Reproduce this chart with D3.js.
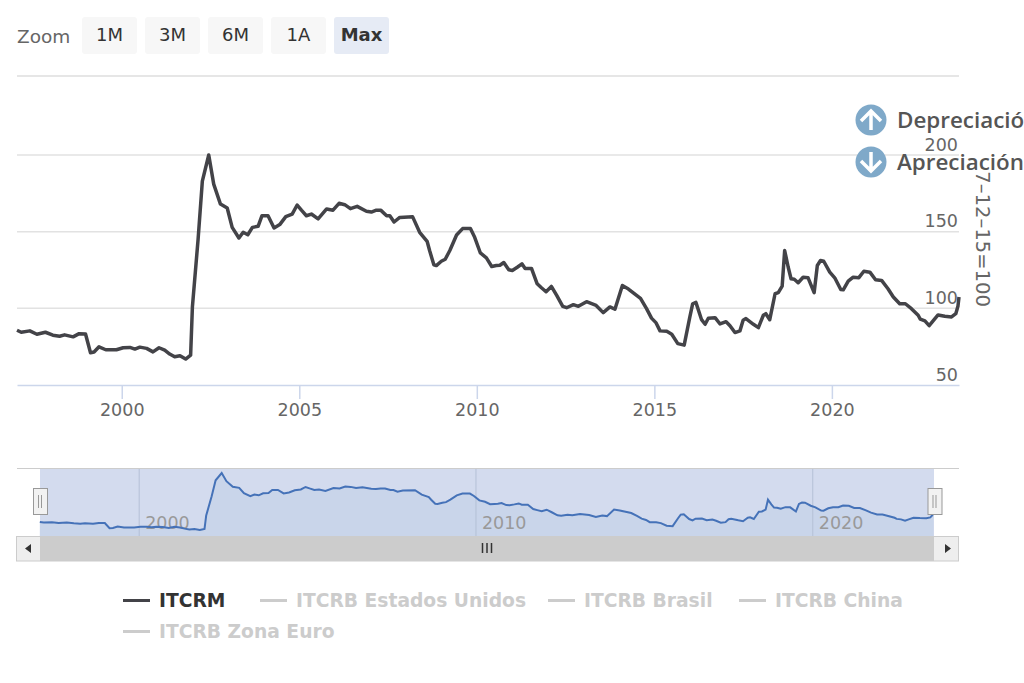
<!DOCTYPE html>
<html>
<head>
<meta charset="utf-8">
<script src="https://cdn.jsdelivr.net/npm/d3@7/dist/d3.min.js"></script>
<style>
  html, body { margin: 0; padding: 0; background: #fff; overflow: hidden; }
  text { font-family: "DejaVu Sans", sans-serif; }
</style>
</head>
<body>
<svg id="chart" width="1024" height="683"></svg>
<script>
// fractional year of each point
const years = [
  1997.05, 1997.17, 1997.41, 1997.61, 1997.85, 1998.06, 1998.25, 1998.39, 1998.63, 1998.80, 1998.98,
  1999.12, 1999.22, 1999.36, 1999.55, 1999.85, 2000.04, 2000.23, 2000.37, 2000.51, 2000.70, 2000.88,
  2001.05, 2001.21, 2001.35, 2001.49, 2001.64, 2001.80, 2001.94, 2001.99, 2002.15, 2002.27, 2002.45,
  2002.59, 2002.78, 2002.97, 2003.11, 2003.30, 2003.42, 2003.55, 2003.68, 2003.84, 2003.95, 2004.12,
  2004.29, 2004.45, 2004.62, 2004.80, 2004.94, 2005.06, 2005.20, 2005.34, 2005.53, 2005.77, 2005.95,
  2006.12, 2006.28, 2006.44, 2006.63, 2006.89, 2007.03, 2007.17, 2007.30, 2007.46, 2007.55, 2007.67,
  2007.83, 2008.19, 2008.39, 2008.60, 2008.67, 2008.79, 2008.86, 2009.00, 2009.11, 2009.24, 2009.43,
  2009.60, 2009.82, 2009.94, 2010.10, 2010.27, 2010.42, 2010.55, 2010.65, 2010.76, 2010.90, 2011.00,
  2011.14, 2011.27, 2011.36, 2011.54, 2011.70, 2011.82, 2011.95, 2012.10, 2012.25, 2012.42, 2012.53,
  2012.72, 2012.86, 2013.09, 2013.36, 2013.56, 2013.75, 2013.89, 2014.10, 2014.27, 2014.61, 2014.78,
  2014.92, 2015.05, 2015.16, 2015.35, 2015.49, 2015.66, 2015.84, 2016.00, 2016.08, 2016.17, 2016.33,
  2016.43, 2016.52, 2016.71, 2016.85, 2017.02, 2017.13, 2017.27, 2017.41, 2017.50, 2017.58, 2017.79,
  2017.93, 2018.07, 2018.14, 2018.25, 2018.40, 2018.49, 2018.60, 2018.67, 2018.77, 2018.85, 2018.94,
  2019.05, 2019.19, 2019.33, 2019.50, 2019.59, 2019.68, 2019.77, 2019.94, 2020.08, 2020.25, 2020.32,
  2020.46, 2020.60, 2020.76, 2020.90, 2021.07, 2021.23, 2021.40, 2021.58, 2021.73, 2021.91, 2022.07,
  2022.24, 2022.43, 2022.49, 2022.62, 2022.74, 2022.85, 2022.99, 2023.18, 2023.37, 2023.49, 2023.55, 2023.58
];
const itcrm = [
  85.7, 84.4, 85.3, 83.1, 84.4, 82.5, 81.8, 82.7, 81.4, 83.5, 83.3,
  71.0, 71.5, 74.9, 73.0, 73.0, 74.3, 74.5, 73.4, 74.7, 73.9, 71.6,
  74.3, 72.7, 70.2, 68.4, 69.1, 66.9, 69.5, 100.9, 145.0, 183.0, 200.0,
  181.0, 168.0, 165.4, 152.8, 145.9, 149.6, 148.0, 152.8, 153.5, 160.4, 160.4,
  152.4, 154.6, 159.8, 161.5, 167.4, 164.0, 160.4, 161.5, 158.3, 164.8, 164.0,
  168.5, 167.6, 165.0, 166.5, 163.3, 162.8, 164.0, 163.9, 160.4, 160.4, 156.3,
  159.3, 159.8, 149.6, 143.7, 137.7, 128.4, 127.9, 130.7, 132.0, 137.7, 147.8,
  152.0, 152.0, 146.3, 136.1, 132.9, 127.3, 127.9, 128.1, 129.9, 125.1, 124.7,
  126.8, 129.0, 126.0, 126.0, 116.0, 113.4, 110.8, 114.3, 108.4, 101.3, 100.4,
  102.4, 101.3, 104.3, 101.9, 97.2, 100.9, 99.4, 114.9, 112.6, 106.5, 99.8,
  93.6, 90.5, 85.3, 85.0, 83.1, 77.0, 76.0, 94.4, 103.0, 103.9, 92.6,
  89.6, 93.5, 93.9, 89.8, 91.3, 88.7, 84.2, 85.3, 92.2, 93.3, 89.6,
  87.4, 95.5, 96.5, 92.6, 109.5, 110.2, 114.5, 137.7, 126.8, 119.3, 119.0,
  116.7, 120.3, 119.9, 110.2, 127.9, 131.2, 130.7, 123.6, 119.9, 112.3, 112.1,
  117.7, 120.3, 120.0, 124.2, 123.6, 118.6, 118.2, 112.8, 107.4, 103.0, 103.0,
  99.8, 95.5, 92.9, 91.8, 88.7, 91.8, 95.7, 94.8, 94.4, 96.5, 101.3, 107.4
];

const yTicks = [50, 100, 150, 200];
const xTicks = [2000, 2005, 2010, 2015, 2020];
const navTicks = [2000, 2010, 2020];
const zoomLabels = ["1M", "3M", "6M", "1A", "Max"];
const legendRow1 = ["ITCRM", "ITCRB Estados Unidos", "ITCRB Brasil", "ITCRB China"];
const legendRow2 = ["ITCRB Zona Euro"];

const svg = d3.select("#chart");

const x = d3.scaleLinear().domain([1997.05, 2023.58]).range([17, 959]);
const y = d3.scaleLinear().domain([50, 200]).range([385, 155]);
const xNav = d3.scaleLinear().domain([1997.07, 2023.6]).range([40.5, 934]);
const yNav = d3.scaleLinear().domain([67, 200]).range([530, 473]);

// range selector
svg.append("text").attr("x", 17).attr("y", 43).attr("font-size", 18.5).attr("fill", "#666").text("Zoom");
const btn = svg.selectAll("g.btn").data(zoomLabels).enter().append("g")
  .attr("class", "btn")
  .attr("transform", (d, i) => `translate(${82 + i * 63},17)`);
btn.append("rect").attr("width", 55).attr("height", 37).attr("rx", 3)
  .attr("fill", d => d === "Max" ? "#e6ebf5" : "#f7f7f7");
btn.append("text").attr("x", 27.5).attr("y", 24).attr("text-anchor", "middle")
  .attr("font-size", 18)
  .attr("font-weight", d => d === "Max" ? "bold" : "normal")
  .attr("fill", "#333").text(d => d);

// main plot: top line + gridlines
svg.append("line").attr("x1", 17).attr("x2", 959).attr("y1", 76).attr("y2", 76)
  .attr("stroke", "#e6e6e6").attr("stroke-width", 2);
svg.append("g").selectAll("line").data(yTicks.filter(d => d > 50)).enter().append("line")
  .attr("x1", 17).attr("x2", 959)
  .attr("y1", d => y(d)).attr("y2", d => y(d))
  .attr("stroke", "#e2e2e2").attr("stroke-width", 1.5);

// x axis
const xAxis = svg.append("g").attr("transform", "translate(0,385)")
  .call(d3.axisBottom(x).tickValues(xTicks).tickFormat(d3.format("d")).tickSize(14).tickPadding(5).tickSizeOuter(0));
xAxis.select(".domain").attr("stroke", "#ccd6eb").attr("stroke-width", 1.5);
xAxis.selectAll("line").attr("stroke", "#ccd6eb").attr("stroke-width", 1.5);
xAxis.selectAll("text").attr("font-size", 17.5).attr("fill", "#666").attr("font-family", "DejaVu Sans");

// y labels sit on top of the gridlines, right aligned
svg.append("g").selectAll("text").data(yTicks).enter().append("text")
  .attr("x", 958).attr("y", d => y(d) - 4.5)
  .attr("text-anchor", "end").attr("font-size", 17.5).attr("fill", "#666").text(d => d);

// axis title, its start is hidden by the overlay image in the original
svg.append("text")
  .attr("transform", "translate(976,307) rotate(90)")
  .attr("text-anchor", "end").attr("font-size", 19.6).attr("fill", "#666")
  .text("7\u201312\u201315=100");

const line = d3.line().x((d, i) => x(years[i])).y(d => y(d));
svg.append("path").datum(itcrm).attr("d", line)
  .attr("fill", "none").attr("stroke", "#434348").attr("stroke-width", 3.5).attr("stroke-linejoin", "round");

// depreciation / appreciation overlay
const overlay = [
  { label: "Depreciación", cy: 120, up: true },
  { label: "Apreciación", cy: 162, up: false }
];
const ov = svg.selectAll("g.ov").data(overlay).enter().append("g").attr("class", "ov");
ov.append("circle").attr("cx", 871).attr("cy", d => d.cy).attr("r", 15.5).attr("fill", "#7fa9c9");
ov.append("path")
  .attr("d", d => {
    const s = d.up ? 1 : -1, c = d.cy;
    return `M871,${c + 10 * s}V${c - 9 * s}M861,${c + s}L871,${c - 9 * s}L881,${c + s}`;
  })
  .attr("fill", "none").attr("stroke", "#fff").attr("stroke-width", 3.5);
ov.append("text").attr("x", 897).attr("y", d => d.cy + 8)
  .attr("font-size", 22.4).attr("font-weight", 600)
  .attr("fill", "#555").style("font-family", "'Open Sans'").text(d => d.label);

// navigator
svg.append("line").attr("x1", 17).attr("x2", 959).attr("y1", 468.5).attr("y2", 468.5)
  .attr("stroke", "#ccc").attr("stroke-width", 1);
svg.append("rect").attr("x", 40).attr("y", 469).attr("width", 894).attr("height", 67).attr("fill", "#d3dbee");

const navArea = d3.area().x((d, i) => xNav(years[i])).y0(536).y1(d => yNav(d));
svg.append("path").datum(itcrm).attr("d", navArea).attr("fill", "#c9d5ea");

svg.append("g").selectAll("line").data(navTicks).enter().append("line")
  .attr("x1", d => xNav(d)).attr("x2", d => xNav(d)).attr("y1", 469).attr("y2", 536)
  .attr("stroke", "#b4c0d6").attr("stroke-width", 1);
svg.append("g").selectAll("text").data(navTicks).enter().append("text")
  .attr("x", d => xNav(d) + 6).attr("y", 529).attr("font-size", 17.5).attr("fill", "#999").text(d => d);

const navLine = d3.line().x((d, i) => xNav(years[i])).y(d => yNav(d));
svg.append("path").datum(itcrm).attr("d", navLine)
  .attr("fill", "none").attr("stroke", "#4572b8").attr("stroke-width", 2);

// navigator handles
const handles = svg.selectAll("g.handle").data([40, 934.5]).enter().append("g")
  .attr("class", "handle").attr("transform", d => `translate(${d},502)`);
handles.append("rect").attr("x", -6.5).attr("y", -13.5).attr("width", 14).attr("height", 26)
  .attr("fill", "#f2f2f2").attr("stroke", "#999").attr("stroke-width", 1);
handles.append("path").attr("d", "M-1.5,-7V6M1.5,-7V6").attr("stroke", "#999").attr("stroke-width", 1).attr("fill", "none");

// scrollbar
svg.append("rect").attr("x", 16.5).attr("y", 536.5).attr("width", 942).attr("height", 24.5)
  .attr("fill", "#eee").attr("stroke", "#ccc");
svg.append("rect").attr("x", 40).attr("y", 536).attr("width", 894).attr("height", 25).attr("fill", "#ccc");
svg.append("path").attr("d", "M482.5,543V553M487,543V553M491.5,543V553").attr("stroke", "#333").attr("stroke-width", 1.5);
svg.append("path").attr("d", "M31,544L25,548.5L31,553Z M945,544L951,548.5L945,553Z").attr("fill", "#333");

// legend
const row1x = [123, 260, 548, 739];
const legendItem = (names, xs, cy) => {
  const g = svg.append("g").selectAll("g").data(names).enter().append("g")
    .attr("transform", (d, i) => `translate(${xs[i]},${cy})`);
  g.append("line").attr("x1", 0).attr("x2", 27)
    .attr("stroke", d => d === "ITCRM" ? "#434348" : "#ccc").attr("stroke-width", 3);
  g.append("text").attr("x", 36).attr("y", 6.5).attr("font-size", 18.7).attr("font-weight", "bold")
    .attr("fill", d => d === "ITCRM" ? "#333" : "#ccc").text(d => d);
};
legendItem(legendRow1, row1x, 600.5);
legendItem(legendRow2, [123], 631.5);
</script>
</body>
</html>
